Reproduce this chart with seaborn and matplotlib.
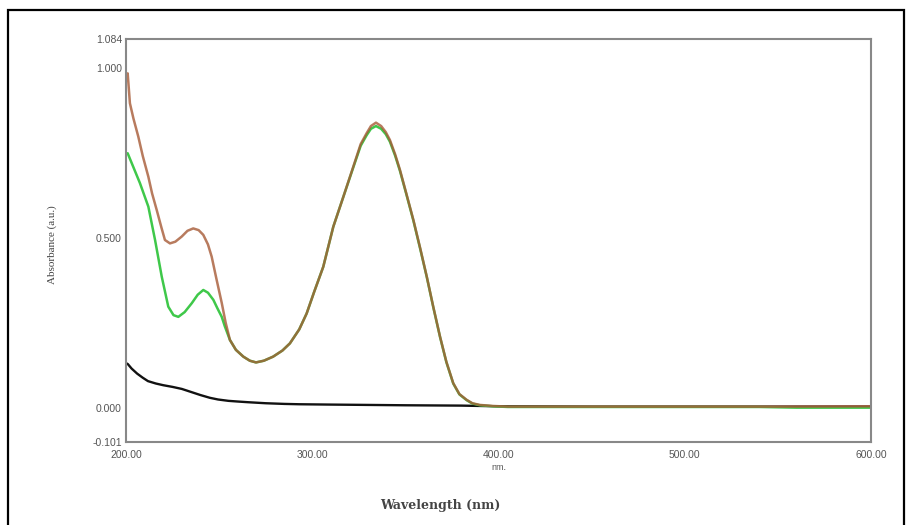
import matplotlib
matplotlib.use("Agg")
import matplotlib.pyplot as plt
import matplotlib.transforms as mtransforms
from matplotlib.patches import Rectangle
import seaborn as sns
import pandas as pd

# ---------------- data ----------------
brown_wl = [200, 200.9, 202.1, 204, 206.6, 209, 212, 214, 216.5, 219, 220.9, 223.6,
            226.5, 229.9, 233, 236.1, 239, 241.5, 244, 246, 248.5, 251.4, 253.5, 255.8,
            259, 263, 266.5, 269.8, 274, 279, 284, 288, 293, 297, 301, 305.9, 311.3,
            316.7, 322, 326, 329.2, 331.5, 334.2, 337, 339.5, 341.7, 344.5, 347.1,
            350.5, 354.3, 358, 361.5, 365, 368.6, 372, 375.7, 379, 382.9, 386, 390,
            397, 405, 450, 500, 550, 600]
brown_abs = [0.975, 0.983, 0.895, 0.850, 0.797, 0.740, 0.679, 0.630, 0.581, 0.530, 0.493, 0.483,
             0.488, 0.503, 0.520, 0.527, 0.522, 0.508, 0.480, 0.444, 0.380, 0.308, 0.250, 0.199,
             0.170, 0.150, 0.138, 0.133, 0.138, 0.150, 0.168, 0.189, 0.230, 0.277, 0.340, 0.414, 0.532,
             0.620, 0.708, 0.775, 0.807, 0.828, 0.838, 0.828, 0.810, 0.787, 0.745, 0.699,
             0.630, 0.552, 0.468, 0.385, 0.296, 0.209, 0.135, 0.072, 0.040, 0.023, 0.013, 0.008,
             0.005, 0.003, 0.003, 0.003, 0.003, 0.004]

green_wl = [200, 200.9, 203.9, 207.5, 212, 215.6, 219.2, 222.7, 225.5, 228.1, 231.5, 235.3,
            238.5, 241.5, 244, 246.9, 249, 251.4, 253, 255.8, 259, 263, 266.5, 269.8, 274,
            279, 284, 288, 293, 297, 301, 305.9, 311.3, 316.7, 322, 326, 329.2, 331.5, 334.2,
            337, 339.5, 341.7, 344.5, 347.1, 350.5, 354.3, 358, 361.5, 365, 368.6, 372, 375.7,
            379, 382.9, 386, 390, 397, 405, 450, 500, 540, 560, 600]
green_abs = [0.745, 0.748, 0.708, 0.660, 0.591, 0.493, 0.385, 0.297, 0.272, 0.267, 0.281, 0.307,
             0.332, 0.346, 0.338, 0.317, 0.293, 0.267, 0.240, 0.199, 0.170, 0.150, 0.138, 0.133, 0.138,
             0.150, 0.168, 0.189, 0.230, 0.277, 0.340, 0.414, 0.532, 0.620, 0.706, 0.770, 0.801, 0.820, 0.828,
             0.820, 0.804, 0.782, 0.741, 0.696, 0.628, 0.550, 0.466, 0.384, 0.295, 0.208, 0.134, 0.071,
             0.039, 0.022, 0.012, 0.007, 0.004, 0.002, 0.002, 0.002, 0.002, 0.000, 0.000]

black_wl = [200, 201, 203, 206, 209, 211.8, 216, 220, 225, 230, 235, 240, 245, 249.4, 255,
            260, 265.5, 275, 285, 293, 310, 330, 350, 380, 400, 450, 500, 600]
black_abs = [0.131, 0.128, 0.115, 0.100, 0.088, 0.078, 0.071, 0.066, 0.061, 0.055, 0.046, 0.037,
             0.029, 0.024, 0.020, 0.018, 0.016, 0.013, 0.011, 0.010, 0.009, 0.008, 0.007, 0.006,
             0.004, 0.003, 0.003, 0.003]

y_ticks = [-0.101, 0.000, 0.500, 1.000, 1.084]
y_tick_labels = ["-0.101", "0.000", "0.500", "1.000", "1.084"]
x_ticks = [200, 300, 400, 500, 600]
x_tick_labels = ["200.00", "300.00", "400.00", "500.00", "600.00"]

# ---------------- plot ----------------
sns.set_style("white")
plt.rcParams['font.family'] = ['Liberation Sans', 'DejaVu Sans']
plt.rcParams['lines.solid_joinstyle'] = 'round'

W, H = 907, 525
fig = plt.figure(figsize=(W / 100, H / 100), dpi=100)
ax = fig.add_axes([126 / W, 1 - 442 / H, (871 - 126) / W, (442 - 39) / H])

df_black = pd.DataFrame({"wl": black_wl, "abs": black_abs})
df_brown = pd.DataFrame({"wl": brown_wl, "abs": brown_abs})
df_green = pd.DataFrame({"wl": green_wl, "abs": green_abs})

sns.lineplot(data=df_black, x="wl", y="abs", ax=ax, color="#111111", lw=1.7, sort=False)
sns.lineplot(data=df_green, x="wl", y="abs", ax=ax, color="#3fc84a", lw=1.8, sort=False)
sns.lineplot(data=df_brown, x="wl", y="abs", ax=ax, color="#a65a36", lw=1.8, alpha=0.8, sort=False)

ax.set_xlim(200, 600)
ax.set_ylim(-0.101, 1.084)
ax.set_xticks(x_ticks)
ax.set_xticklabels(x_tick_labels)
ax.set_yticks(y_ticks)
ax.set_yticklabels(y_tick_labels)
ax.tick_params(axis="both", direction="in", length=4, width=1, color="#777777",
               labelsize=7.5, labelcolor="#555555", pad=3)
ax.tick_params(axis="x", pad=6)
for s in ax.spines.values():
    s.set_color("#888888")
    s.set_linewidth(1.5)
    s.set_visible(True)

ax.set_xlabel("")
ax.set_ylabel("")

trans = mtransforms.blended_transform_factory(ax.transData, fig.transFigure)
ax.text(400, 1 - 468 / H, "nm.", transform=trans, ha="center", va="center",
        fontsize=6.5, color="#555555")

fig.text(440 / W, 1 - 505 / H, "Wavelength (nm)", ha="center", va="center",
         fontsize=9, fontweight="bold", family="DejaVu Serif", color="#444444")
fig.text(52 / W, 1 - 245 / H, "Absorbance (a.u.)", ha="center", va="center",
         rotation=90, fontsize=8, family="Liberation Serif", color="#444444")

# outer frame
fig.patches.append(Rectangle((8 / W, -0.05), (904 - 8) / W, 1 - 10 / H + 0.05,
                             transform=fig.transFigure, fill=False,
                             edgecolor="black", lw=1.6))

fig.savefig("out.png", dpi=100)
